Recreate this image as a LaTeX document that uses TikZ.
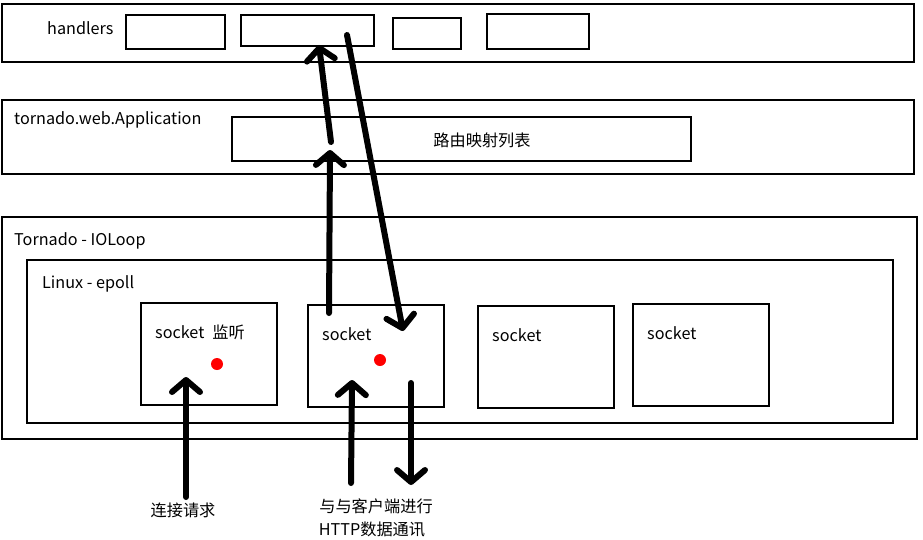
\documentclass[tikz,border=0pt]{standalone}
\usepackage{fontspec}
\setmainfont{Noto Sans CJK SC}
\usepackage{tikz}
\usetikzlibrary{arrows.meta}

\tikzset{
  frame/.style={line width=2.2pt},
  lbl/.style={inner sep=0pt, anchor=west, font=\fontsize{16.2}{19}\selectfont},
  capt/.style={inner sep=0pt, font=\fontsize{16.2}{19}\selectfont},
  hand/.style={line width=6pt, line cap=round, line join=round,
    -{Straight Barb[round,length=12pt,width=28pt]}},
  dot/.style={fill=red},
}

\begin{document}
\begin{tikzpicture}[x=1pt,y=-1pt]
  \useasboundingbox (0,0) rectangle (923,539);

  % handlers
  \draw[frame] (2,4) rectangle (914,62);
  \node[lbl] (handlers) at (47,28) {handlers};
  \draw[frame] (126,15) rectangle (225,49);
  \draw[frame] (241,15) rectangle (374,46);
  \draw[frame] (393,18) rectangle (461,49);
  \draw[frame] (487,14) rectangle (589,49);

  % application
  \draw[frame] (2,100) rectangle (914,174);
  \node[lbl] (app) at (14,120) {tornado.web.Application};
  \draw[frame] (232,117) rectangle (691,161);
  \node[capt] (router) at (482,140) {路由映射列表};

  % ioloop + epoll
  \draw[frame] (2,217) rectangle (917,439);
  \node[lbl] (ioloop) at (14,241) {Tornado - IOLoop};
  \draw[frame] (27,260) rectangle (893,423);
  \node[lbl] (epoll) at (42,284) {Linux - epoll};

  % sockets
  \draw[frame] (141,303) rectangle (277,405);
  \draw[frame] (308,305) rectangle (444,407);
  \draw[frame] (478,306) rectangle (614,408);
  \draw[frame] (633,304) rectangle (769,406);
  \node[lbl] (sock1) at (155,332) {socket\enspace 监听};
  \node[lbl] (sock2) at (322,334) {socket};
  \node[lbl] (sock3) at (492,335) {socket};
  \node[lbl] (sock4) at (647,333) {socket};
  \fill[dot] (217,364) circle[radius=6pt];
  \fill[dot] (380,360) circle[radius=6pt];

  % captions below
  \node[capt] (connreq) at (183,510) {连接请求};
  \node[capt] (comm1) at (376,506) {与与客户端进行};
  \node[capt] (comm2) at (372,529) {HTTP数据通讯};

  % arrow ends
  \coordinate (a0) at (186,497);
  \coordinate (a1) at (186,377);
  \coordinate (b0) at (351,483);
  \coordinate (b1) at (352,380);
  \coordinate (c0) at (411,383);
  \coordinate (c1) at (411,485);
  \coordinate (d0) at (329,313);
  \coordinate (d1) at (330,150);
  \coordinate (e0) at (331,142);
  \coordinate (e1) at (319,45);
  \coordinate (f0) at (347,35);
  \coordinate (f1) at (403,331);

  \draw[hand] (a0) -- (a1);
  \draw[hand] (b0) -- (b1);
  \draw[hand] (c0) -- (c1);
  \draw[hand] (d0) -- (d1);
  \draw[hand] (e0) -- (e1);
  \draw[hand] (f0) -- (f1);
\end{tikzpicture}
\end{document}
